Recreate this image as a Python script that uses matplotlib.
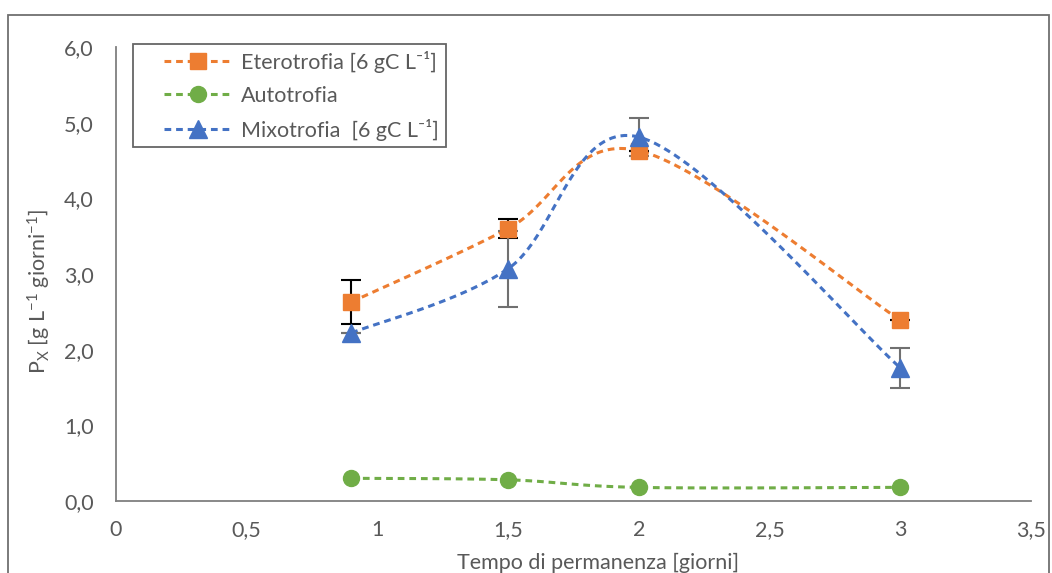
import matplotlib
matplotlib.use('Agg')
import matplotlib.pyplot as plt
import numpy as np
from matplotlib.patches import Rectangle
from matplotlib.lines import Line2D
from matplotlib.legend_handler import HandlerLine2D

plt.rcParams['font.family'] = ['Lato', 'DejaVu Sans']
plt.rcParams['mathtext.default'] = 'regular'

# data
x_etero = [0.9, 1.5, 2.0, 3.0]
y_etero = [2.63, 3.60, 4.63, 2.39]
e_etero = [0.29, 0.13, 0.0, 0.0]

x_auto = [0.9, 1.5, 2.0, 3.0]
y_auto = [0.30, 0.28, 0.18, 0.18]

x_mixo = [0.9, 1.5, 2.0, 3.0]
y_mixo = [2.22, 3.07, 4.81, 1.76]
e_mixo = [0.0, 0.50, 0.25, 0.26]

xticks = [0, 0.5, 1, 1.5, 2, 2.5, 3, 3.5]
xticklabels = ['0', '0,5', '1', '1,5', '2', '2,5', '3', '3,5']
yticks = [0, 1, 2, 3, 4, 5, 6]
yticklabels = ['0,0', '1,0', '2,0', '3,0', '4,0', '5,0', '6,0']

labels = ['Eterotrofia [6 gC L\u207b\u00b9]', 'Autotrofia', 'Mixotrofia  [6 gC L\u207b\u00b9]']

c_etero = '#ED7D31'
c_auto = '#70AD47'
c_mixo = '#4472C4'
grey = '#595959'
fs = 15.5


def smooth(xs, ys, n=40):
    # excel-like smoothed line (bezier through points)
    xs = np.asarray(xs, float); ys = np.asarray(ys, float)
    P = np.column_stack([xs, ys])
    out = []
    for i in range(len(P) - 1):
        p0 = P[i - 1] if i > 0 else P[i]
        p3 = P[i + 2] if i + 2 < len(P) else P[i + 1]
        a, b = P[i], P[i + 1]
        c1 = a + (b - p0) / 6
        c2 = b - (p3 - a) / 6
        t = np.linspace(0, 1, n)[:, None]
        seg = (1 - t) ** 3 * a + 3 * (1 - t) ** 2 * t * c1 + 3 * (1 - t) * t ** 2 * c2 + t ** 3 * b
        out.append(seg if i == 0 else seg[1:])
    s = np.vstack(out)
    return s[:, 0], s[:, 1]


fig = plt.figure(figsize=(10.52, 5.73), dpi=100)
ax = fig.add_axes([116 / 1052, 1 - 501 / 573, (1031 - 116) / 1052, (501 - 47) / 573])

dash = (2.2, 1.6)
for xs, ys, c in [(x_etero, y_etero, c_etero), (x_auto, y_auto, c_auto), (x_mixo, y_mixo, c_mixo)]:
    sx, sy = smooth(xs, ys)
    ax.plot(sx, sy, '--', color=c, lw=2.2, dashes=dash, zorder=2)

ax.errorbar(x_etero, y_etero, yerr=e_etero, fmt='none', ecolor='black', elinewidth=1.5, capsize=7, capthick=1.5, zorder=3)
ax.errorbar(x_mixo, y_mixo, yerr=e_mixo, fmt='none', ecolor='#707070', elinewidth=1.5, capsize=7, capthick=1.5, zorder=3)

ax.plot(x_etero, y_etero, 's', color=c_etero, ms=11.5, zorder=4)
ax.plot(x_auto, y_auto, 'o', color=c_auto, ms=11.5, zorder=4)
ax.plot(x_mixo, y_mixo, '^', color=c_mixo, ms=12.5, zorder=5)

ax.set_xlim(0, 3.5)
ax.set_ylim(0, 6)
ax.set_xticks(xticks)
ax.set_xticklabels(xticklabels)
ax.set_yticks(yticks)
ax.set_yticklabels(yticklabels)
ax.tick_params(length=0, labelsize=fs, colors=grey)
ax.tick_params(axis='x', pad=14)
ax.tick_params(axis='y', pad=16)
for s in ['top', 'right']:
    ax.spines[s].set_visible(False)
for s in ['left', 'bottom']:
    ax.spines[s].set_color('#7f7f7f')
    ax.spines[s].set_linewidth(1.3)

ax.set_xlabel('Tempo di permanenza [giorni]', fontsize=fs, color=grey, labelpad=9)
ax.set_ylabel('P$_X$ [g L$^{-1}$ giorni$^{-1}$]', fontsize=fs, color=grey, labelpad=8)
# excel centres the titles on the chart area, not the plot area
ax.xaxis.label.set_x((598 - 116) / 915)
ax.yaxis.label.set_y((501 - 291) / 454)

handles = [
    Line2D([], [], color=c_etero, ls='--', dashes=dash, lw=2.2, marker='s', ms=11.5),
    Line2D([], [], color=c_auto, ls='--', dashes=dash, lw=2.2, marker='o', ms=11.5),
    Line2D([], [], color=c_mixo, ls='--', dashes=dash, lw=2.2, marker='^', ms=12.5),
]
leg = ax.legend(handles, labels, loc='upper left', bbox_to_anchor=((133 - 116) / 915, (501 - 44) / 454),
                handler_map={Line2D: HandlerLine2D(xpad=1.15)},
                fontsize=fs, frameon=True, fancybox=False, edgecolor='#404040', handlelength=4.3,
                labelcolor=grey, borderpad=0.31, labelspacing=0.6, handletextpad=0.42,
                borderaxespad=0)
leg.get_frame().set_linewidth(1.3)

fig.patches.append(Rectangle((8 / 1052, -0.05), (1049 - 8) / 1052, 1 - 15 / 573 + 0.05,
                             transform=fig.transFigure, fill=False, edgecolor='#6f6f6f', lw=1.3))

fig.savefig('out.png', dpi=100)
